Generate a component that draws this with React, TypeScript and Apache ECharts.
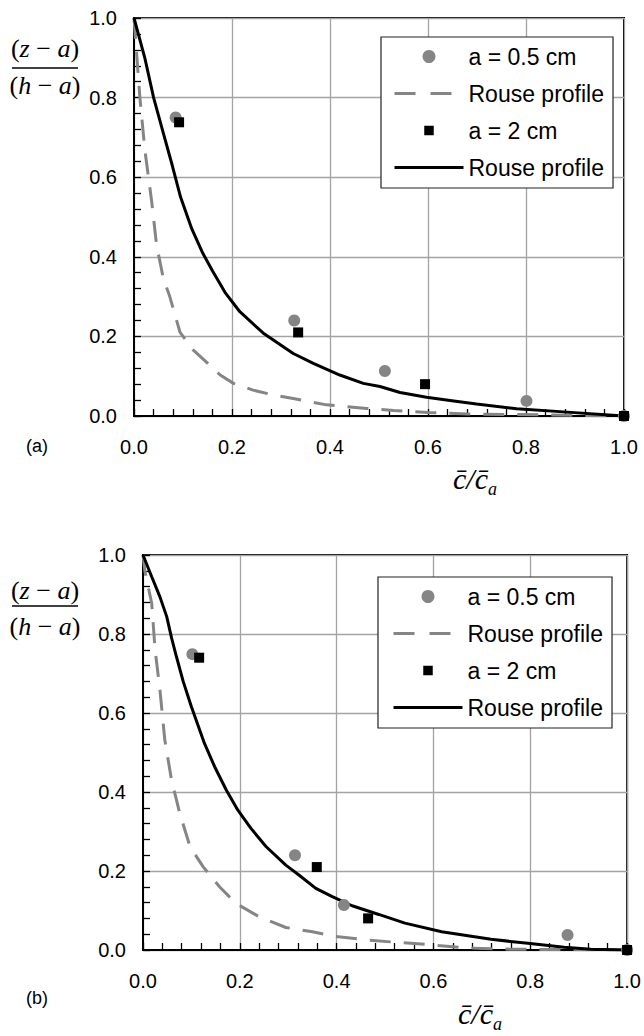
import React, { useEffect, useRef } from "react";
import * as echarts from "echarts";

// ---------- data ----------
const AXIS_MIN = 0;
const AXIS_MAX = 1;
const AXIS_STEP = 0.2;

const legendNames = ["a = 0.5 cm", "Rouse profile (a = 0.5 cm)", "a = 2 cm", "Rouse profile (a = 2 cm)"];

// panel (a)
const measA05_a: number[][] = [[0.085, 0.75], [0.327, 0.24], [0.512, 0.113], [0.801, 0.038], [1.0, 0.0]];
const measA2_a: number[][] = [[0.092, 0.738], [0.335, 0.21], [0.594, 0.08], [1.0, 0.0]];
const rouseA05_a: number[][] = [
  [0, 1.0], [0.003, 0.95], [0.012, 0.8], [0.022, 0.67], [0.036, 0.54], [0.046, 0.43], [0.06, 0.345],
  [0.073, 0.3], [0.094, 0.21], [0.12, 0.167], [0.176, 0.103], [0.203, 0.082], [0.243, 0.065],
  [0.284, 0.053], [0.325, 0.044], [0.393, 0.028], [0.475, 0.019], [0.53, 0.014], [0.6, 0.009],
  [0.68, 0.005], [0.83, 0.003], [1.0, 0.0],
];
const rouseA2_a: number[][] = [
  [0, 1.0], [0.022, 0.9], [0.04, 0.8], [0.06, 0.71], [0.078, 0.63], [0.095, 0.55], [0.118, 0.47],
  [0.14, 0.41], [0.16, 0.365], [0.186, 0.31], [0.216, 0.262], [0.264, 0.208], [0.325, 0.157],
  [0.366, 0.132], [0.42, 0.103], [0.468, 0.082], [0.502, 0.074], [0.543, 0.059], [0.597, 0.047],
  [0.645, 0.039], [0.699, 0.03], [0.781, 0.018], [0.869, 0.011], [1.0, 0.0],
];

// panel (b)
const measA05_b: number[][] = [[0.102, 0.749], [0.314, 0.24], [0.415, 0.114], [0.877, 0.038], [1.0, 0.0]];
const measA2_b: number[][] = [[0.116, 0.74], [0.359, 0.21], [0.465, 0.08], [1.0, 0.0]];
const rouseA05_b: number[][] = [
  [0, 1.0], [0.004, 0.958], [0.018, 0.878], [0.025, 0.76], [0.035, 0.658], [0.045, 0.532],
  [0.059, 0.43], [0.076, 0.346], [0.097, 0.262], [0.124, 0.211], [0.158, 0.16], [0.192, 0.118],
  [0.24, 0.084], [0.295, 0.057], [0.35, 0.046], [0.398, 0.034], [0.466, 0.025], [0.528, 0.019],
  [0.596, 0.013], [0.671, 0.005], [0.76, 0.002], [1.0, 0.0],
];
const rouseA2_b: number[][] = [
  [0, 1.0], [0.018, 0.945], [0.035, 0.894], [0.049, 0.844], [0.059, 0.79], [0.069, 0.743],
  [0.083, 0.68], [0.1, 0.616], [0.127, 0.523], [0.148, 0.464], [0.172, 0.405], [0.196, 0.354],
  [0.223, 0.308], [0.254, 0.262], [0.295, 0.215], [0.322, 0.19], [0.357, 0.156], [0.391, 0.135],
  [0.432, 0.112], [0.487, 0.09], [0.541, 0.068], [0.617, 0.046], [0.719, 0.027], [0.795, 0.017],
  [0.87, 0.007], [0.925, 0.002], [1.0, 0.0],
];

// ---------- styles ----------
const SANS = "'Liberation Sans', Arial, sans-serif";
const SERIF = "'Liberation Serif', 'Times New Roman', serif";
const GRAY = "#858585";
const GRID_GRAY = "#a3a3a3";
const DASH = [21, 13];

const makeAxis = (gridIndex: number, isX: boolean) => ({
  type: "value",
  gridIndex,
  min: AXIS_MIN,
  max: AXIS_MAX,
  interval: AXIS_STEP,
  axisLine: { show: true, onZero: false, lineStyle: { color: "#000", width: 2 } },
  axisTick: { show: true, inside: true, length: 7, lineStyle: { color: "#000", width: 1.3 } },
  minorTick: { show: true, splitNumber: 5, length: 7, lineStyle: { color: "#000", width: 1.3 } },
  splitLine: { show: true, lineStyle: { color: GRID_GRAY, width: 1.3 } },
  axisLabel: {
    formatter: (v: number) => v.toFixed(1),
    fontSize: 20,
    fontFamily: SANS,
    color: "#000",
    margin: isX ? 21 : 17,
  },
});

const makeSeries = (idx: number, m05: number[][], r05: number[][], m2: number[][], r2: number[][]) => [
  {
    name: legendNames[1], type: "line", xAxisIndex: idx, yAxisIndex: idx, data: r05,
    symbol: "none", lineStyle: { color: GRAY, width: 3, type: DASH }, itemStyle: { color: GRAY }, z: 2,
  },
  {
    name: legendNames[3], type: "line", xAxisIndex: idx, yAxisIndex: idx, data: r2,
    symbol: "none", lineStyle: { color: "#000", width: 3, type: "solid" }, itemStyle: { color: "#000" }, z: 3,
  },
  {
    name: legendNames[0], type: "scatter", xAxisIndex: idx, yAxisIndex: idx, data: m05,
    symbol: "circle", symbolSize: 12, itemStyle: { color: GRAY, opacity: 1 }, z: 4,
  },
  {
    name: legendNames[2], type: "scatter", xAxisIndex: idx, yAxisIndex: idx, data: m2,
    symbol: "rect", symbolSize: 10, itemStyle: { color: "#000", opacity: 1 }, z: 5,
  },
];

const makeLegend = (left: number, top: number, padLeft: number) => ({
  show: true,
  orient: "vertical",
  left,
  top,
  padding: [8, 9, 9, padLeft],
  itemGap: 14,
  itemWidth: 69,
  itemHeight: 13,
  backgroundColor: "#fff",
  borderColor: "#222",
  borderWidth: 1.2,
  borderRadius: 0,
  selectedMode: false,
  formatter: (name: string) => (name.indexOf("Rouse") === 0 ? "Rouse profile" : name),
  textStyle: { fontSize: 23, lineHeight: 23, fontFamily: SANS, color: "#000" },
  data: [
    { name: legendNames[0], icon: "circle", itemStyle: { color: GRAY } },
    {
      name: legendNames[1],
      lineStyle: { width: 3, type: [21, 15], color: GRAY },
      itemStyle: { color: "transparent", opacity: 0, borderWidth: 0 },
    },
    { name: legendNames[2], icon: "path://M0,0M13,13M1.75,1.75h9.5v9.5h-9.5z", itemStyle: { color: "#000" } },
    {
      name: legendNames[3],
      lineStyle: { width: 3, type: "solid", color: "#000" },
      itemStyle: { color: "transparent", opacity: 0, borderWidth: 0 },
    },
  ],
});

const yTitle = (top: number, numOff: number, lineOff: number, denOff: number) => {
  const rich = {
    p: { fontFamily: SERIF, fontSize: 26, fontStyle: "normal", fill: "#000" },
    i: { fontFamily: SERIF, fontSize: 26, fontStyle: "italic", fill: "#000" },
  };
  return [
    {
      type: "text", x: 45, y: top + numOff,
      style: { text: "{p|(}{i|z}{p| − }{i|a}{p|)}", rich, align: "center", verticalAlign: "middle" },
    },
    {
      type: "line", shape: { x1: 12, y1: top + lineOff, x2: 78, y2: top + lineOff },
      style: { stroke: "#000", lineWidth: 1.3 },
    },
    {
      type: "text", x: 45, y: top + denOff,
      style: { text: "{p|(}{i|h}{p| − }{i|a}{p|)}", rich, align: "center", verticalAlign: "middle" },
    },
  ];
};

const xTitle = (x: number, y: number) => [
  {
    type: "text", x, y,
    style: {
      text: "c\u0304/c\u0304", fontFamily: SERIF, fontSize: 30, fontStyle: "italic",
      fill: "#000", align: "left", verticalAlign: "middle",
    },
  },
  {
    type: "text", x: x + 35, y: y + 11,
    style: {
      text: "a", fontFamily: SERIF, fontSize: 18, fontStyle: "italic",
      fill: "#000", align: "left", verticalAlign: "middle",
    },
  },
];

const panelLabel = (text: string, y: number) => ({
  type: "text", x: 37, y,
  style: { text, fontFamily: SANS, fontSize: 18, fill: "#000", align: "center", verticalAlign: "middle" },
});

const option = {
  animation: false,
  backgroundColor: "#fff",
  grid: [
    { left: 134, top: 18, width: 490, height: 398, show: true, borderColor: "#000", borderWidth: 2, backgroundColor: "transparent" },
    { left: 143, top: 555, width: 487, height: 395, show: true, borderColor: "#000", borderWidth: 2, backgroundColor: "transparent" },
  ],
  xAxis: [makeAxis(0, true), makeAxis(1, true)],
  yAxis: [makeAxis(0, false), makeAxis(1, false)],
  legend: [makeLegend(381, 37, 12), makeLegend(378, 577, 14)],
  series: [
    ...makeSeries(0, measA05_a, rouseA05_a, measA2_a, rouseA2_a),
    ...makeSeries(1, measA05_b, rouseA05_b, measA2_b, rouseA2_b),
  ],
  graphic: [
    ...yTitle(18, 30, 50, 67),
    ...yTitle(555, 35, 51, 71),
    ...xTitle(453, 478),
    ...xTitle(458, 1013),
    panelLabel("(a)", 446),
    panelLabel("(b)", 998),
  ],
};

export default function App() {
  const ref = useRef<HTMLDivElement>(null);
  useEffect(() => {
    document.body.style.margin = "0";
    const chart = echarts.init(ref.current as HTMLDivElement, null, { renderer: "svg" });
    chart.setOption(option as any);
    return () => chart.dispose();
  }, []);
  return <div ref={ref} style={{ width: 644, height: 1036 }} />;
}
